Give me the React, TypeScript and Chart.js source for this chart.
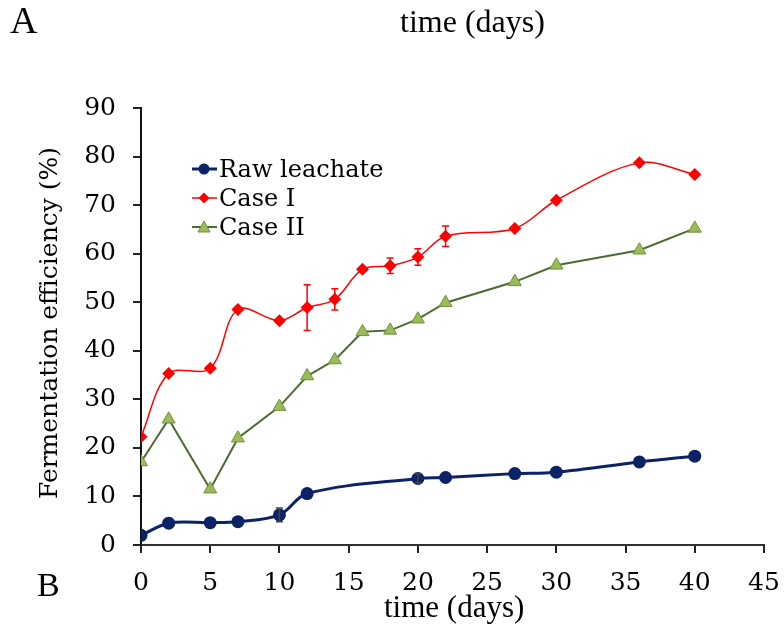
import React, { useEffect, useRef } from "react";
import { Chart, registerables } from "chart.js";

Chart.register(...registerables);

const rawDays = [0, 2, 5, 7, 10, 12, 20, 22, 27, 30, 36, 40];
const rawValues = [2.0, 4.5, 4.6, 4.8, 6.2, 10.6, 13.7, 13.9, 14.7, 15.0, 17.1, 18.3];
const rawErrors = [0, 0, 0, 0, 1.4, 0, 0.9, 0, 0, 0, 0, 0];

const caseDays = [0, 2, 5, 7, 10, 12, 14, 16, 18, 20, 22, 27, 30, 36, 40];
const caseIValues = [22.3, 35.3, 36.4, 48.5, 46.2, 48.9, 50.6, 56.8, 57.5, 59.3, 63.6, 65.2, 71.0, 78.7, 76.3];
const caseIErrors = [0, 0, 0, 0, 0, 4.7, 2.2, 0, 1.6, 1.7, 2.1, 0, 0, 0, 0];
const caseIIValues = [17.1, 25.9, 11.5, 22.0, 28.5, 34.8, 38.1, 43.9, 44.2, 46.5, 49.9, 54.2, 57.6, 60.7, 65.2];

const xTicks = [0, 5, 10, 15, 20, 25, 30, 35, 40, 45];
const yTicks = [0, 10, 20, 30, 40, 50, 60, 70, 80, 90];

const seriesNames = ["Raw leachate", "Case I", "Case II"];

const NAVY = "#0c2266";
const RED = "#ff0000";
const GREEN_LINE = "#4e6a30";
const GREEN_FILL = "#9bbb59";
const GREEN_EDGE = "#71913f";

const tickFont = { family: "'DejaVu Serif', serif", size: 25 };

const errorBarPlugin = {
  id: "errorBars",
  afterDatasetsDraw(chart: any) {
    const ctx = chart.ctx;
    const yScale = chart.scales.y;
    chart.data.datasets.forEach((ds: any, di: number) => {
      const errs: number[] | undefined = ds.errors;
      if (!errs) return;
      const meta = chart.getDatasetMeta(di);
      ctx.save();
      ctx.strokeStyle = ds.errorColor || ds.borderColor;
      ctx.lineWidth = 1.5;
      meta.data.forEach((pt: any, i: number) => {
        const e = errs[i];
        if (!e) return;
        const v = ds.data[i].y;
        const x = pt.x;
        const y1 = yScale.getPixelForValue(v + e);
        const y2 = yScale.getPixelForValue(v - e);
        ctx.beginPath();
        ctx.moveTo(x, y1);
        ctx.lineTo(x, y2);
        ctx.moveTo(x - 3.5, y1);
        ctx.lineTo(x + 3.5, y1);
        ctx.moveTo(x - 3.5, y2);
        ctx.lineTo(x + 3.5, y2);
        ctx.stroke();
      });
      ctx.restore();
    });
  },
};

function LegendRow({ kind, label, top }: { kind: number; label: string; top: number }) {
  let marker: React.ReactNode = null;
  let color = NAVY;
  let width = 3;
  if (kind === 0) {
    marker = <circle cx={12} cy={12} r={5.5} fill={NAVY} />;
  } else if (kind === 1) {
    color = RED;
    width = 1.5;
    marker = <polygon points="12,6.5 17.5,12 12,17.5 6.5,12" fill={RED} />;
  } else {
    color = GREEN_LINE;
    width = 2;
    marker = <polygon points="12,6 18,17 6,17" fill={GREEN_FILL} stroke={GREEN_EDGE} strokeWidth={1} />;
  }
  return (
    <div style={{ position: "absolute", left: 192, top: top - 14, height: 28, display: "flex", alignItems: "center" }}>
      <svg width={25} height={24} style={{ display: "block" }}>
        <line x1={0} y1={12} x2={25} y2={12} stroke={color} strokeWidth={width} />
        {marker}
      </svg>
      <span style={{ fontFamily: "'DejaVu Serif', serif", fontSize: 24, lineHeight: "28px", marginLeft: 2, color: "#000", whiteSpace: "nowrap" }}>
        {label}
      </span>
    </div>
  );
}

export default function App() {
  const canvasRef = useRef<HTMLCanvasElement | null>(null);

  useEffect(() => {
    document.body.style.margin = "0";
    const canvas = canvasRef.current;
    if (!canvas) return;
    const chart = new Chart(canvas, {
      type: "line",
      data: {
        datasets: [
          {
            label: seriesNames[0],
            data: rawDays.map((d, i) => ({ x: d, y: rawValues[i] })),
            borderColor: NAVY,
            backgroundColor: NAVY,
            borderWidth: 3,
            pointStyle: "circle",
            pointRadius: 6.5,
            pointBorderWidth: 0,
            pointBackgroundColor: NAVY,
            tension: 0.35,
            errors: rawErrors,
            errorColor: "#444444",
          } as any,
          {
            label: seriesNames[1],
            data: caseDays.map((d, i) => ({ x: d, y: caseIValues[i] })),
            borderColor: RED,
            backgroundColor: RED,
            borderWidth: 1.5,
            pointStyle: "rectRot",
            pointRadius: 6.5,
            pointBorderWidth: 0,
            pointBackgroundColor: RED,
            tension: 0.35,
            errors: caseIErrors,
          } as any,
          {
            label: seriesNames[2],
            data: caseDays.map((d, i) => ({ x: d, y: caseIIValues[i] })),
            borderColor: GREEN_LINE,
            backgroundColor: GREEN_FILL,
            borderWidth: 2,
            pointStyle: "triangle",
            pointRadius: 7.5,
            pointBorderWidth: 1,
            pointBorderColor: GREEN_EDGE,
            pointBackgroundColor: GREEN_FILL,
            tension: 0,
          } as any,
        ],
      },
      options: {
        animation: false,
        responsive: false,
        maintainAspectRatio: false,
        layout: { padding: { left: 0, top: 108, right: 20, bottom: 0 } },
        plugins: {
          legend: { display: false },
          tooltip: { enabled: false },
          title: { display: false },
        },
        scales: {
          x: {
            type: "linear",
            min: 0,
            max: 45,
            afterBuildTicks: (scale: any) => {
              scale.ticks = xTicks.map((v) => ({ value: v }));
            },
            afterFit: (scale: any) => {
              scale.height = 89;
              scale.paddingLeft = 0;
              scale.paddingRight = 0;
            },
            ticks: { font: tickFont, color: "#000", padding: 15, maxRotation: 0, autoSkip: false },
            grid: { drawOnChartArea: false, drawTicks: true, tickLength: 8, color: "#222", lineWidth: 2 },
            border: { display: true, color: "#333", width: 2 },
          },
          y: {
            type: "linear",
            min: 0,
            max: 90,
            afterBuildTicks: (scale: any) => {
              scale.ticks = yTicks.map((v) => ({ value: v }));
            },
            afterFit: (scale: any) => {
              scale.width = 141;
            },
            ticks: { font: tickFont, color: "#000", padding: 17, autoSkip: false },
            grid: { drawOnChartArea: false, drawTicks: true, tickLength: 8, color: "#222", lineWidth: 2 },
            border: { display: true, color: "#111", width: 2 },
          },
        },
      },
      plugins: [errorBarPlugin],
    } as any);
    return () => chart.destroy();
  }, []);

  const serifTitle = { fontFamily: "'Liberation Serif', serif", color: "#000", whiteSpace: "nowrap" as const, position: "absolute" as const };

  return (
    <div style={{ position: "relative", width: 784, height: 634, background: "#fff", overflow: "hidden" }}>
      <canvas ref={canvasRef} width={784} height={634} style={{ position: "absolute", left: 0, top: 0, width: 784, height: 634 }} />
      <div style={{ ...serifTitle, left: 10, top: 1, fontSize: 38, lineHeight: "38px" }}>A</div>
      <div style={{ ...serifTitle, left: 400, top: 5, fontSize: 32, lineHeight: "32px" }}>time (days)</div>
      <div style={{ ...serifTitle, left: 37, top: 568, fontSize: 34, lineHeight: "34px" }}>B</div>
      <div style={{ ...serifTitle, left: 384, top: 591, fontSize: 31, lineHeight: "31px" }}>time (days)</div>
      <div
        style={{
          position: "absolute",
          left: 49,
          top: 323,
          transform: "translate(-50%, -50%) rotate(-90deg)",
          fontFamily: "'DejaVu Serif', serif",
          fontSize: 25,
          lineHeight: "28px",
          whiteSpace: "nowrap",
          color: "#000",
        }}
      >
        Fermentation efficiency (%)
      </div>
      {seriesNames.map((n, i) => (
        <LegendRow key={n} kind={i} label={n} top={169 + i * 29} />
      ))}
    </div>
  );
}
